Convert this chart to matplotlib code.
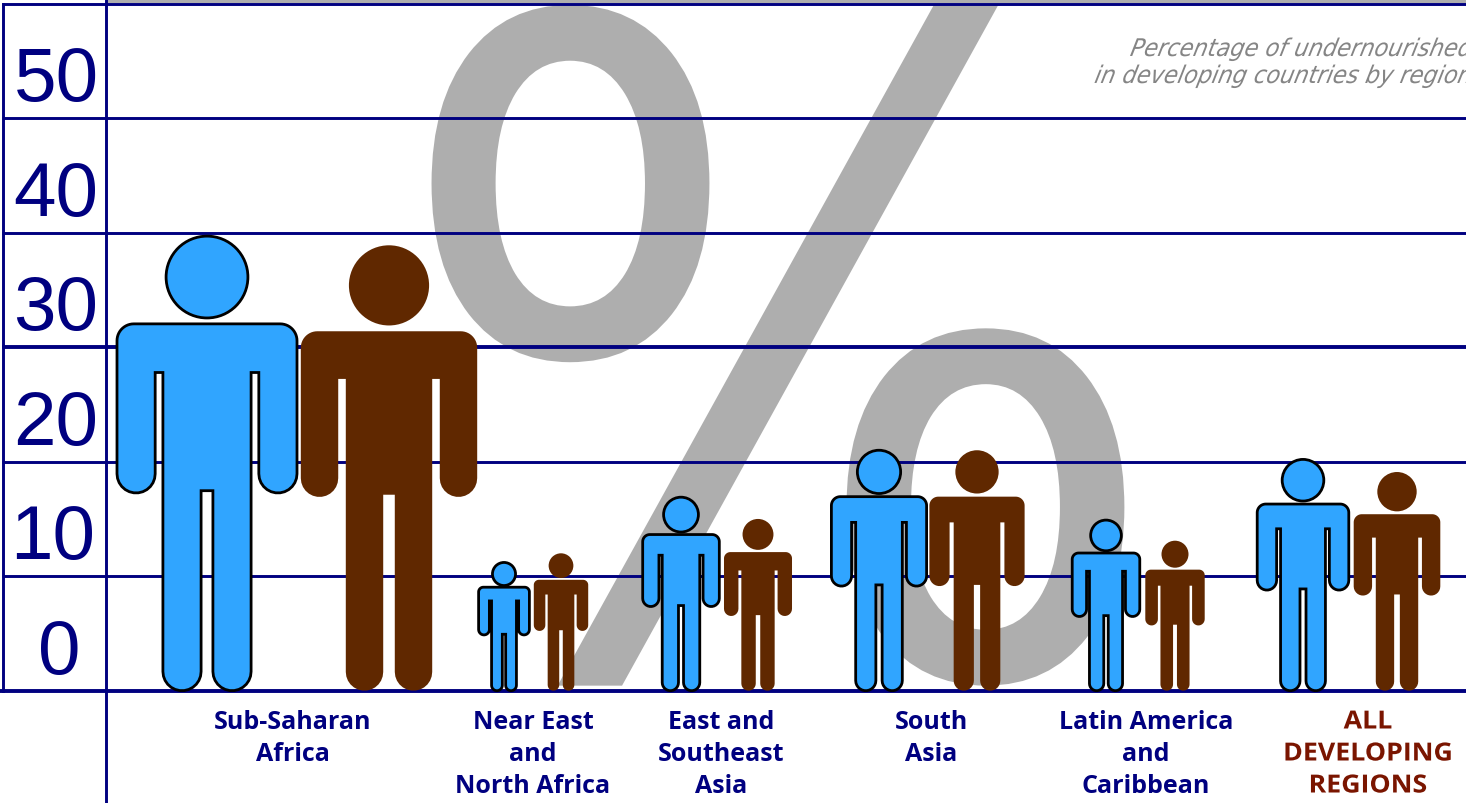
import numpy as np
import matplotlib
matplotlib.use("Agg")
import matplotlib.pyplot as plt
from matplotlib.path import Path
from matplotlib.patches import PathPatch, Ellipse
from matplotlib.patheffects import AbstractPathEffect
from matplotlib.transforms import Affine2D

# percentage undernourished
regions = ["Sub-Saharan\nAfrica", "Near East\nand\nNorth Africa", "East and\nSoutheast\nAsia",
           "South\nAsia", "Latin America\nand\nCaribbean", "ALL\nDEVELOPING\nREGIONS"]
blue_vals = [39.7, 11.2, 16.9, 21.0, 14.9, 20.2]
brown_vals = [38.9, 12.0, 15.0, 21.0, 13.1, 19.1]
yticks = [0, 10, 20, 30, 40, 50, 60]
ylabels = ["0", "10", "20", "30", "40", "50"]

NAVY = "#000080"
GREY = "#aeaeae"
BLUE = "#30a5ff"
BROWN = "#602800"
RED = "#7a1500"

W, H = 1466, 804
PX = 11.45      # pixels per percentage point
Y0 = 691.7      # pixel row of zero

fig = plt.figure(figsize=(W / 100, H / 100), dpi=100)
ax = fig.add_axes([0, 0, 1, 1])
ax.set_xlim(0, W)
ax.set_ylim(-(H - Y0) / PX, Y0 / PX)
ax.axis("off")


class Stretch(AbstractPathEffect):
    # scale and slant a text about its anchor, matplotlib has no font stretch of its own
    def __init__(self, xy, sx=1.0, sy=1.0, skew=0.0):
        super().__init__()
        self.xy, self.sx, self.sy, self.skew = xy, sx, sy, skew

    def draw_path(self, renderer, gc, tpath, affine, rgbFace=None):
        cx, cy = ax.transData.transform(self.xy)
        extra = Affine2D().translate(-cx, -cy).scale(self.sx, self.sy).skew_deg(self.skew, 0).translate(cx, cy)
        renderer.draw_path(gc, tpath, affine + extra, rgbFace)


def arc(cx, cy, r, a0, a1, n=14):
    t = np.radians(np.linspace(a0, a1, n))
    return np.column_stack([cx + r * np.cos(t), cy + r * np.sin(t)])


def person(cx, val, color, edge):
    # outline of the figure on a body of height 1, then scaled by the value
    hw, shoulder, armpit, hand = 0.198, 0.807, 0.70, 0.435
    arm_in, body, crotch, gap = 0.114, 0.097, 0.44, 0.013
    cr = 0.037
    ar = (hw - arm_in) / 2
    lr = (body - gap) / 2
    right = [
        [[0, shoulder]],
        arc(hw - cr, shoulder - cr, cr, 90, 0),
        arc(hw - ar, hand + ar, ar, 0, -180),
        [[arm_in, armpit], [body, armpit]],
        arc(body - lr, lr, lr, 0, -180),
        [[gap, crotch]],
    ]
    right = np.vstack(right)
    left = right[::-1] * [-1, 1]
    pts = np.vstack([right, left])
    h = val * PX
    xy = np.column_stack([cx + pts[:, 0] * h, pts[:, 1] * val])
    lw = 2.0 if edge != "none" else 0
    ax.add_patch(PathPatch(Path(np.vstack([xy, xy[0]]), closed=True), fc=color, ec=edge, lw=lw, zorder=3))
    r = 0.09
    ax.add_patch(Ellipse((cx, (1 - r) * val), 2 * r * h, 2 * r * val, fc=color, ec=edge, lw=lw, zorder=3))


# big percent sign behind everything
pct_xy = (778, 23.3)
ax.text(*pct_xy, "%", fontsize=600, color=GREY, family="Liberation Sans Narrow",
        ha="center", va="center", zorder=0, path_effects=[Stretch(pct_xy, 0.99, 1.08)])

# top band and grid
ax.axhspan(Y0 / PX - 4 / PX, Y0 / PX, xmin=107 / W, color=GREY, lw=0, zorder=1)
for v in yticks:
    thick = v in (0, 30)
    ax.plot([2 if v else 0, W], [v, v], color=NAVY, lw=2.8 if thick else 2.1, zorder=2, solid_capstyle="butt")
ax.plot([2.5, 2.5], [0, 60], color=NAVY, lw=2.1, zorder=2)
ax.plot([106, 106], [-(H - Y0) / PX, Y0 / PX], color=NAVY, lw=2.1, zorder=2)

tick_x = [59, 53, 56, 56, 56, 56]
for v, s, x in zip(yticks, ylabels, tick_x):
    ax.text(x, v + 1.55, s, fontsize=55, color=NAVY, family="Liberation Sans",
            ha="center", va="baseline", zorder=2)

blue_x = [207, 504, 681, 879, 1106, 1303]
brown_x = [389, 561, 758, 977, 1175, 1397]
for x, v in zip(blue_x, blue_vals):
    person(x, v, BLUE, "black")
for x, v in zip(brown_x, brown_vals):
    person(x, v, BROWN, "none")

label_x = [293, 533, 721, 931, 1146, 1368]
for i, (x, s) in enumerate(zip(label_x, regions)):
    for j, line in enumerate(s.split("\n")):
        y = -(729.5 + 32 * j - Y0) / PX
        fx = [Stretch((x, y), 1.07, 1.0)] if i == 5 else []
        ax.text(x, y, line, fontsize=18, fontweight="bold", color=RED if i == 5 else NAVY,
                family="Open Sans", ha="center", va="baseline", zorder=4, path_effects=fx)

titles = ["Percentage of undernourished", "in developing countries by region"]
for s, row in zip(titles, [57, 84]):
    y = (Y0 - row) / PX
    ax.text(1470, y, s, fontsize=17.5, style="italic", color="#858585", family="DejaVu Sans",
            ha="right", va="baseline", zorder=4, path_effects=[Stretch((1470, y), 0.925, 1.0, 12)])

fig.savefig("out.png", dpi=100)
